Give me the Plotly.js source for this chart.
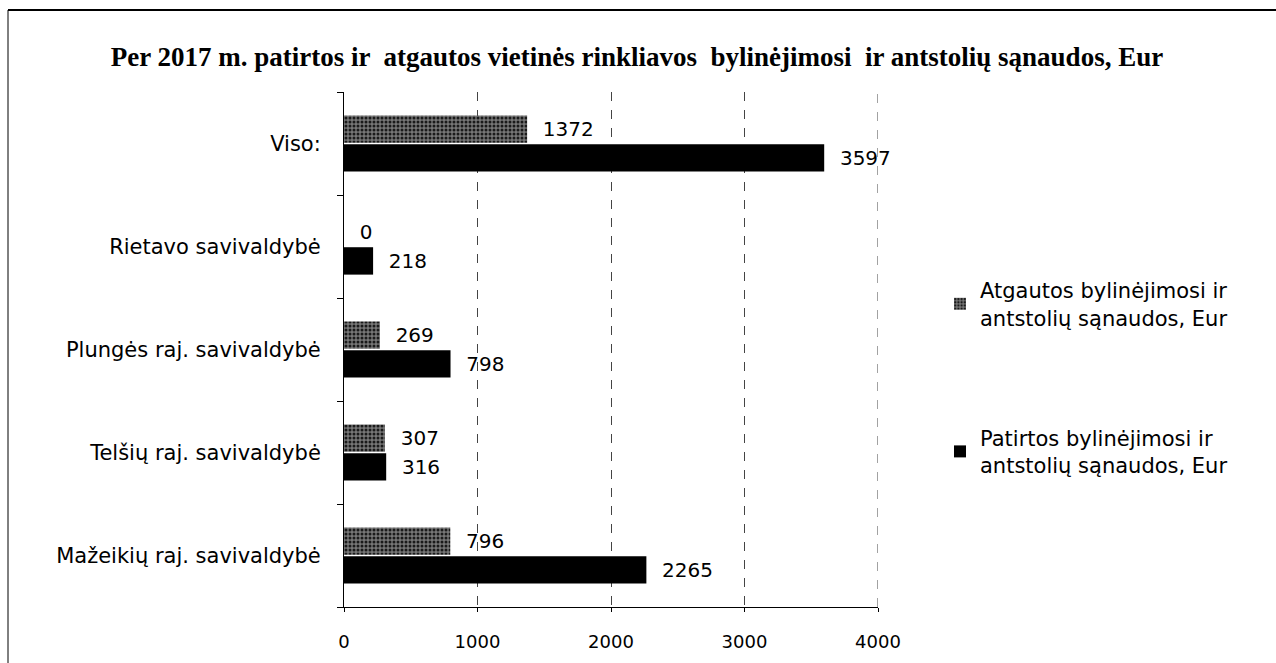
<!DOCTYPE html>
<html>
<head>
<meta charset="utf-8">
<script src="https://cdn.plot.ly/plotly-3.0.1.min.js"></script>
<style>
html,body{margin:0;padding:0;background:#fff;}
#chart{width:1276px;height:663px;}
</style>
</head>
<body>
<div id="chart"></div>
<script>
// Categories listed bottom-to-top (Plotly category axis order)
const categories = [
  "Mažeikių raj. savivaldybė",
  "Telšių raj. savivaldybė",
  "Plungės raj. savivaldybė",
  "Rietavo savivaldybė",
  "Viso:"
];
const patirtos = [2265, 316, 798, 218, 3597];
const atgautos = [796, 307, 269, 0, 1372];
const seriesNames = [
  "Patirtos bylinėjimosi ir<br>antstolių sąnaudos, Eur",
  "Atgautos bylinėjimosi ir<br>antstolių sąnaudos, Eur"
];
const xTicks = [0, 1000, 2000, 3000, 4000];
const titleText = "Per 2017 m. patirtos ir  atgautos vietinės rinkliavos  bylinėjimosi  ir antstolių sąnaudos, Eur";

const FAM = "'DejaVu Sans', 'Open Sans', sans-serif";
const labelFont = {family: FAM, size: 20, color: "#000"};
const catFont = {family: FAM, size: 21, color: "#000"};
const xFont = {family: FAM, size: 18, color: "#000"};
const pad = s => "\u00a0\u00a0" + s;

const traces = [
  {
    type: "bar", orientation: "h",
    y: categories, x: patirtos,
    name: seriesNames[0], legendgroup: "p", legendrank: 2,
    marker: {color: "#000", line: {width: 0}},
    text: patirtos.map(v => pad(String(v))), textposition: "outside",
    textfont: labelFont, cliponaxis: false
  },
  {
    type: "bar", orientation: "h",
    y: categories, x: atgautos,
    name: seriesNames[1], legendgroup: "a", legendrank: 1,
    marker: {color: "#666", line: {width: 0},
      pattern: {shape: ".", bgcolor: "#777", fgcolor: "#1a1a1a", size: 4, solidity: 0.45}},
    text: atgautos.map(v => pad(String(v))), textposition: "outside",
    textfont: labelFont, cliponaxis: false
  }
];

const L = 344, R = 1276 - 878, T = 92, B = 663 - 607;
const pw = 1276 - L - R, ph = 663 - T - B;
const px = v => (v - L) / pw;
const py = v => (663 - B - v) / ph;

const layout = {
  width: 1276, height: 663,
  margin: {l: L, r: R, t: T, b: B, pad: 0},
  paper_bgcolor: "#fff", plot_bgcolor: "#fff",
  font: labelFont,
  title: {
    text: "<b>" + titleText + "</b>",
    font: {family: "'Liberation Serif', 'DejaVu Serif', serif", size: 27, color: "#000"},
    x: 637 / 1276, xref: "container", xanchor: "center", y: 1 - 57/663, yanchor: "middle"
  },
  barmode: "group",
  bargap: 0.44,
  bargroupgap: 0.05,
  xaxis: {
    range: [0, 4000], tickvals: xTicks, ticktext: xTicks.map(String),
    showgrid: true, gridcolor: "#444", griddash: "dash", gridwidth: 1,
    showline: true, linecolor: "#000", linewidth: 1,
    ticks: "outside", ticklen: 4, tickcolor: "#000",
    zeroline: false, fixedrange: true,
    tickfont: xFont, ticklabelstandoff: 14
  },
  yaxis: {
    type: "category",
    showline: true, linecolor: "#000", linewidth: 1,
    ticks: "outside", ticklen: 6, tickcolor: "#000", tickson: "boundaries",
    showgrid: false, zeroline: false, fixedrange: true,
    tickfont: catFont, ticklabelstandoff: 18
  },
  showlegend: true,
  legend: {
    x: px(940), xanchor: "left", y: py(270), yanchor: "top",
    traceorder: "grouped", tracegroupgap: 90,
    font: catFont, bgcolor: "rgba(0,0,0,0)",
    itemwidth: 30, itemsizing: "constant"
  },
  shapes: [
    // gridline at the right edge of the value axis (x = 4000)
    {type: "line", xref: "x", yref: "paper", x0: xTicks[xTicks.length - 1], x1: xTicks[xTicks.length - 1], y0: 0, y1: 1,
     line: {color: "#444", width: 1, dash: "dash"}, layer: "below"},
    {type: "line", xref: "paper", yref: "paper", x0: px(8), x1: px(1276), y0: py(10), y1: py(10),
     line: {color: "#000", width: 2}},
    {type: "line", xref: "paper", yref: "paper", x0: px(8), x1: px(8), y0: py(10), y1: py(663),
     line: {color: "#000", width: 1}}
  ]
};

Plotly.newPlot("chart", traces, layout, {displayModeBar: false, staticPlot: true});
</script>
</body>
</html>
